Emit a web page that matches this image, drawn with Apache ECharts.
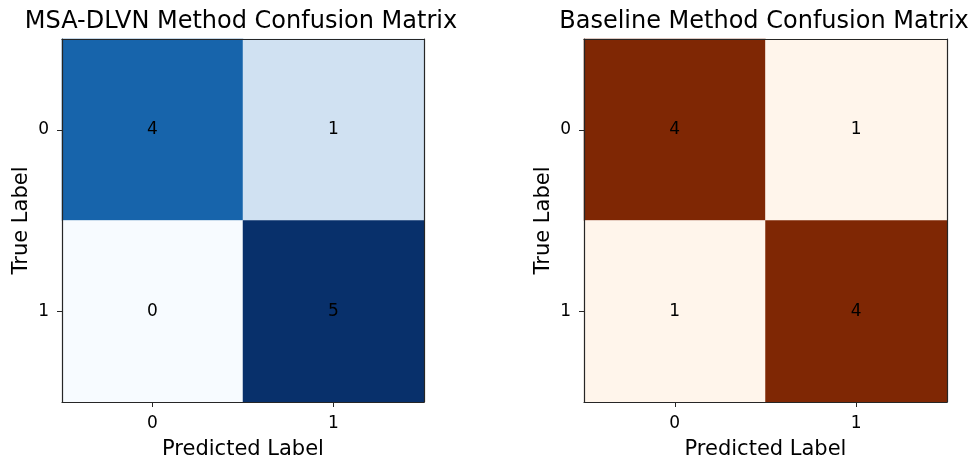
<!DOCTYPE html>
<html>
<head>
<meta charset="utf-8">
<script src="https://cdn.jsdelivr.net/npm/echarts@6/dist/echarts.min.js"></script>
<style>
  html, body { margin: 0; padding: 0; background: #fff; }
  #chart { width: 974px; height: 459px; }
</style>
</head>
<body>
<div id="chart"></div>
<script>
// 数据
const predLabels = ["0", "1"];
const trueLabels = ["0", "1"];
// [pred, true, count]
const msaMatrix = [[0, 0, 4], [1, 0, 1], [0, 1, 0], [1, 1, 5]];
const baseMatrix = [[0, 0, 4], [1, 0, 1], [0, 1, 1], [1, 1, 4]];
const titles = ["MSA-DLVN Method Confusion Matrix", "Baseline Method Confusion Matrix"];

const blues = ["#f7fbff", "#deebf7", "#c6dbef", "#9ecae1", "#6baed6", "#4292c6", "#2171b5", "#08519c", "#08306b"];
const oranges = ["#fff5eb", "#fee6ce", "#fdd0a2", "#fdae6b", "#fd8d3c", "#f16913", "#d94801", "#a63603", "#7f2704"];

const font = "DejaVu Sans";
const frame = { show: true, lineStyle: { color: "#262626", width: 1.2 } };

const myChart = echarts.init(document.getElementById("chart"));

const grids = [
  { left: 62, top: 39, width: 362, height: 363, outerBoundsMode: "none", containLabel: false },
  { left: 584, top: 39, width: 363, height: 363, outerBoundsMode: "none", containLabel: false },
];

function makeX(gi) {
  return [
    {
      type: "category", gridIndex: gi, data: predLabels, position: "bottom", z: 10,
      name: "Predicted Label", nameLocation: "middle", nameGap: 37,
      nameTextStyle: { fontFamily: font, fontSize: 21, color: "#000" },
      axisLine: frame,
      axisTick: { show: true, alignWithLabel: true, length: 5, lineStyle: { color: "#262626" } },
      axisLabel: { fontFamily: font, fontSize: 17, color: "#000", margin: 13 },
      splitLine: { show: false },
    },
    {
      type: "category", gridIndex: gi, data: predLabels, position: "top", z: 10,
      axisLine: frame, axisTick: { show: false }, axisLabel: { show: false },
    },
  ];
}

function makeY(gi) {
  return [
    {
      type: "category", gridIndex: gi, data: trueLabels, position: "left", inverse: true, z: 10,
      name: "True Label", nameLocation: "middle", nameGap: 30, nameRotate: 90,
      nameTextStyle: { fontFamily: font, fontSize: 21, color: "#000" },
      axisLine: frame,
      axisTick: { show: true, alignWithLabel: true, length: 5, lineStyle: { color: "#262626" } },
      axisLabel: { fontFamily: font, fontSize: 17, color: "#000", margin: 13 },
      splitLine: { show: false },
    },
    {
      type: "category", gridIndex: gi, data: trueLabels, position: "right", inverse: true, z: 10,
      axisLine: frame, axisTick: { show: false }, axisLabel: { show: false },
    },
  ];
}

const option = {
  animation: false,
  backgroundColor: "#fff",
  title: [
    { text: titles[0], left: 236, top: 5, textAlign: "center",
      textStyle: { fontFamily: font, fontSize: 24, fontWeight: "normal", color: "#000" } },
    { text: titles[1], left: 759, top: 5, textAlign: "center",
      textStyle: { fontFamily: font, fontSize: 24, fontWeight: "normal", color: "#000" } },
  ],
  grid: grids,
  xAxis: [...makeX(0), ...makeX(1)],
  yAxis: [...makeY(0), ...makeY(1)],
  visualMap: [
    { show: false, seriesIndex: 0, min: 0, max: 5, dimension: 2, inRange: { color: blues } },
    { show: false, seriesIndex: 1, min: 1, max: 4, dimension: 2, inRange: { color: oranges } },
  ],
  series: [
    {
      type: "heatmap", xAxisIndex: 0, yAxisIndex: 0, data: msaMatrix,
      label: { show: true, color: "#000", fontFamily: font, fontSize: 17 },
      emphasis: { disabled: true },
    },
    {
      type: "heatmap", xAxisIndex: 2, yAxisIndex: 2, data: baseMatrix,
      label: { show: true, color: "#000", fontFamily: font, fontSize: 17 },
      emphasis: { disabled: true },
    },
  ],
};

myChart.setOption(option);
</script>
</body>
</html>
